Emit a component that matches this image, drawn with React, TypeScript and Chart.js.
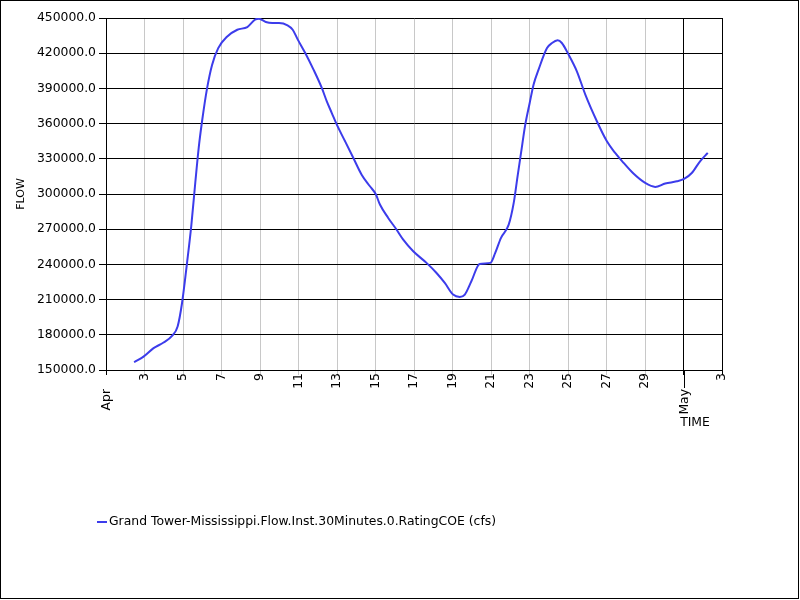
import React, { useEffect, useRef } from "react";
import { Chart, registerables } from "chart.js";

Chart.register(...registerables);

// Day of April (32 = May 2) for each reading
const flowDays: number[] = [
  2.46, 2.95, 3.47, 3.99, 4.43, 4.72, 4.95, 5.21, 5.43, 5.64, 5.82, 5.99, 6.25, 6.51, 6.83,
  7.3, 7.82, 8.34, 8.74, 8.95, 9.3, 9.64, 9.99, 10.43, 10.7, 10.95, 11.35, 11.78, 12.21,
  12.47, 12.73, 12.99, 13.42, 13.85, 14.28, 14.71, 15.01, 15.23, 15.66, 16.09, 16.44, 16.96,
  17.65, 18.17, 18.6, 19.03, 19.38, 19.64, 19.98, 20.41, 20.97, 21.22, 21.52, 21.92, 22.18,
  22.38, 22.56, 22.78, 23.01, 23.21, 23.47, 23.91, 24.17, 24.46, 24.68, 25.03, 25.46, 25.9,
  26.5, 27.02, 27.45, 27.89, 28.4, 29.01, 29.53, 30.05, 30.65, 31.03, 31.43, 31.86, 32.26,
];

// Flow in cfs
const flowValues: number[] = [
  156600, 161400, 168600, 173400, 179100, 187100, 207100, 241400, 272900, 310000, 340000,
  362000, 390000, 410000, 424300, 434300, 440000, 442300, 448600, 449400, 446600, 445700,
  445700, 443700, 440000, 432000, 420200, 406000, 390400, 379000, 369000, 359100, 344900,
  330700, 316500, 306600, 300000, 291000, 279600, 269700, 261100, 251200, 241300, 232700,
  224200, 214300, 212300, 214300, 225600, 240400, 241300, 249800, 262600, 273900, 292400,
  315100, 335000, 359100, 377600, 393200, 406000, 424400, 428700, 431000, 428700, 418800,
  404600, 384700, 362000, 344900, 335000, 326500, 317400, 309400, 306000, 308900, 310800,
  312800, 317900, 327900, 335000,
];

const tickDays: number[] = [1, 3, 5, 7, 9, 11, 13, 15, 17, 19, 21, 23, 25, 27, 29, 31, 33];
const tickLabels: string[] = ["", "3", "5", "7", "9", "11", "13", "15", "17", "19", "21", "23", "25", "27", "29", "", "3"];
const monthTicks: number[] = [1, 31];
const monthLabels: string[] = ["Apr", "May"];

const seriesName = "Grand Tower-Mississippi.Flow.Inst.30Minutes.0.RatingCOE (cfs)";
const yTitle = "FLOW";
const xTitle = "TIME";
const yMin = 150000;
const yMax = 450000;
const yStep = 30000;

const LINE_COLOR = "rgb(60,60,235)";
const FONT = "DejaVu Sans";
const FS = 12.4;

export default function App() {
  const ref = useRef<HTMLCanvasElement | null>(null);

  useEffect(() => {
    document.body.style.margin = "0";
    const canvas = ref.current;
    if (!canvas) return;

    const extras = {
      id: "extras",
      afterDraw(chart: any) {
        const ctx = chart.ctx;
        const xs = chart.scales.x;
        const area = chart.chartArea;
        ctx.save();
        ctx.fillStyle = "#000";
        ctx.strokeStyle = "#000";
        ctx.lineWidth = 1;
        ctx.font = `${FS}px "${FONT}"`;
        monthTicks.forEach((d, i) => {
          const px = Math.round(xs.getPixelForValue(d)) + 0.5;
          ctx.beginPath();
          ctx.moveTo(px, area.bottom);
          ctx.lineTo(px, area.bottom + (i === 0 ? 4 : 18));
          ctx.stroke();
          ctx.save();
          ctx.translate(px, area.bottom + 19);
          ctx.rotate(-Math.PI / 2);
          ctx.textAlign = "right";
          ctx.textBaseline = "middle";
          ctx.fillText(monthLabels[i], 0, 0);
          ctx.restore();
        });
        ctx.textAlign = "center";
        ctx.textBaseline = "middle";
        ctx.fillText(xTitle, 695, 423);
        // legend
        ctx.strokeStyle = LINE_COLOR;
        ctx.lineWidth = 2;
        ctx.beginPath();
        ctx.moveTo(97, 522);
        ctx.lineTo(107, 522);
        ctx.stroke();
        ctx.textAlign = "left";
        ctx.fillText(seriesName, 109, 522);
        // outer border
        ctx.strokeStyle = "#000";
        ctx.lineWidth = 1;
        ctx.strokeRect(0.5, 0.5, 798, 598);
        ctx.restore();
      },
    };

    const chart = new Chart(canvas, {
      type: "line",
      data: {
        datasets: [
          {
            label: seriesName,
            data: flowDays.map((d, i) => ({ x: d, y: flowValues[i] })),
            borderColor: LINE_COLOR,
            backgroundColor: LINE_COLOR,
            borderWidth: 2,
            pointRadius: 0,
            cubicInterpolationMode: "monotone",
            fill: false,
          },
        ],
      },
      options: {
        animation: false,
        responsive: false,
        devicePixelRatio: 1,
        layout: { padding: { top: 18, right: 78, left: 0, bottom: 0 } },
        plugins: {
          legend: { display: false },
          tooltip: { enabled: false },
        },
        scales: {
          x: {
            type: "linear",
            min: 1,
            max: 33,
            afterBuildTicks: (scale: any) => {
              scale.ticks = tickDays.map((v) => ({ value: v }));
            },
            afterFit: (scale: any) => {
              scale.height = 230;
            },
            ticks: {
              autoSkip: false,
              minRotation: 90,
              maxRotation: 90,
              padding: -2,
              color: "#000",
              font: { family: FONT, size: FS },
              callback: (v: any) => {
                const i = tickDays.indexOf(Number(v));
                return i >= 0 ? tickLabels[i] : "";
              },
            },
            grid: {
              color: (c: any) => {
                const v = c.tick ? c.tick.value : 0;
                return v === 31 || v === 33 || v === 1 ? "#000" : "#c8c8c8";
              },
              tickColor: (c: any) => {
                const v = c.tick ? c.tick.value : 0;
                return v === 31 || v === 33 || v === 1 ? "#000" : "#c8c8c8";
              },
              tickLength: 5,
            },
            border: { color: "#000" },
          },
          y: {
            min: yMin,
            max: yMax,
            afterFit: (scale: any) => {
              scale.width = 106;
            },
            ticks: {
              stepSize: yStep,
              padding: 3,
              color: "#000",
              font: { family: FONT, size: FS },
              callback: (v: any) => Number(v).toFixed(1),
            },
            grid: { color: "#000", tickColor: "#000", tickLength: 7 },
            border: { color: "#000" },
            title: {
              display: true,
              text: yTitle,
              color: "#000",
              font: { family: FONT, size: 11 },
              padding: { top: 15, bottom: 0 },
            },
          },
        },
      },
      plugins: [extras],
    } as any);

    return () => chart.destroy();
  }, []);

  return <canvas ref={ref} width={800} height={600} style={{ display: "block" }} />;
}
